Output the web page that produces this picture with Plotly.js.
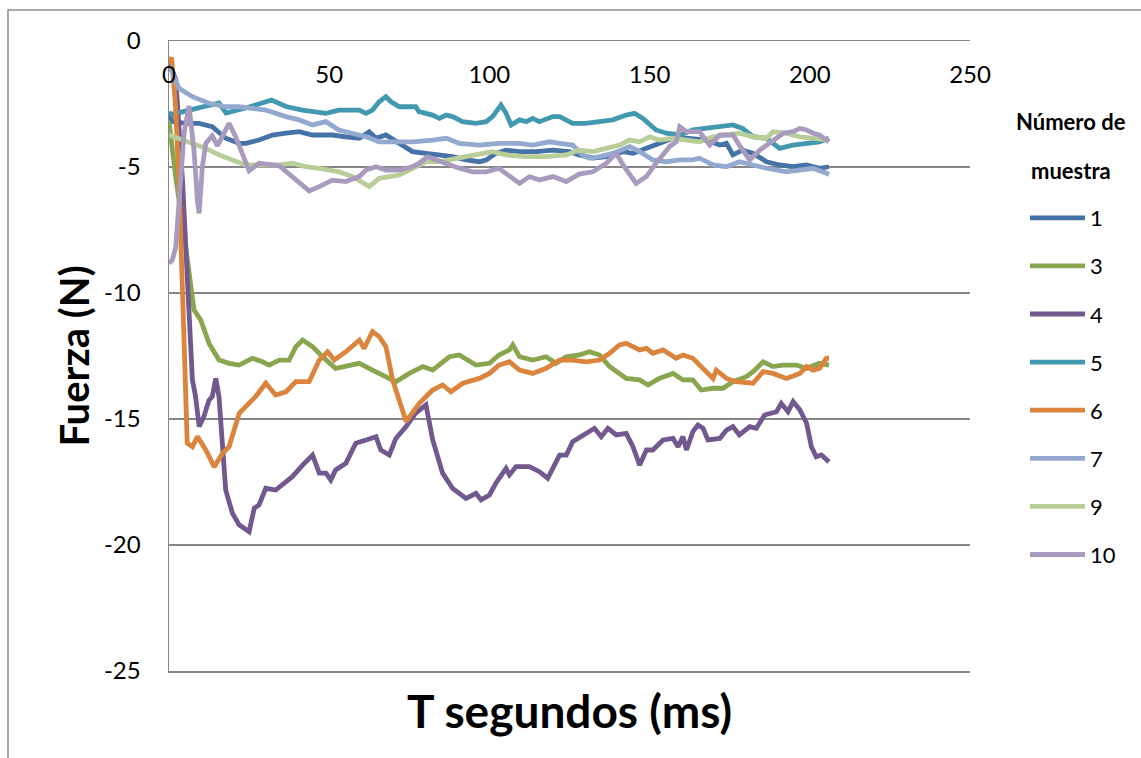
<!DOCTYPE html>
<html>
<head>
<meta charset="utf-8">
<script src="https://cdn.plot.ly/plotly-3.0.1.min.js"></script>
<style>
  html, body { margin: 0; padding: 0; background: #ffffff; }
  #chart { width: 1141px; height: 758px; }
</style>
</head>
<body>
<div id="chart"></div>
<script>
// Force (N) measured against time (ms) for each sample number.
const sampleNames = ["1", "3", "4", "5", "6", "7", "9", "10"];
const sampleColors = ["#4572A7", "#89A54E", "#71588F", "#4198AF", "#DB843D", "#93A9CF", "#B9CD96", "#A99BBD"];

const t1 = [0, 1, 5.2, 9.4, 13.5, 17.7, 21.9, 24, 28.1, 32.3, 36.5, 40.6, 44.8, 49, 51, 55.2, 59.4, 62.5, 64.6, 67.7, 71.9, 76, 80.2, 84.4, 88.5, 92.7, 96.9, 99, 102, 105.2, 109.4, 114.6, 119.8, 125, 128, 132.3, 136.5, 141.7, 144.8, 149, 152, 157.3, 161.5, 167.7, 171.9, 174, 176, 179, 182.3, 186.5, 190.6, 194.8, 199, 203, 206];
const f1 = [-2.8, -3.2, -3.27, -3.27, -3.40, -3.86, -4.06, -4.06, -3.93, -3.73, -3.66, -3.60, -3.73, -3.73, -3.73, -3.80, -3.86, -3.60, -3.86, -3.73, -4.06, -4.39, -4.46, -4.52, -4.59, -4.72, -4.79, -4.72, -4.46, -4.33, -4.39, -4.39, -4.33, -4.39, -4.52, -4.65, -4.59, -4.39, -4.46, -4.26, -4.13, -3.86, -3.86, -3.93, -4.13, -4.06, -4.52, -4.33, -4.46, -4.79, -4.92, -4.99, -4.92, -5.05, -4.99];

const t3 = [0, 2.1, 5.2, 7.8, 9.9, 12.5, 15.6, 18.75, 21.9, 26, 29.2, 31.25, 34.4, 37.5, 39.6, 41.7, 44.8, 47.9, 52, 55.2, 59.4, 63.5, 67.7, 70.8, 75, 79.2, 82.3, 87.5, 90.6, 95.8, 100, 103, 106.25, 107.3, 109.4, 113.5, 117.7, 120.8, 124, 128, 131.25, 134.4, 137.5, 142.7, 146.9, 149.5, 153, 157.3, 160.4, 163.5, 166.1, 169.8, 172.9, 176, 180.2, 182.3, 185.4, 188.5, 191.7, 195.8, 199, 203, 206];
const f3 = [-3.2, -5.4, -8.16, -10.67, -11.07, -12.0, -12.66, -12.79, -12.86, -12.59, -12.73, -12.86, -12.66, -12.66, -12.13, -11.87, -12.13, -12.53, -12.99, -12.92, -12.79, -13.06, -13.32, -13.52, -13.19, -12.92, -13.06, -12.53, -12.46, -12.86, -12.79, -12.46, -12.26, -12.06, -12.53, -12.66, -12.53, -12.79, -12.53, -12.46, -12.33, -12.46, -12.92, -13.39, -13.45, -13.65, -13.39, -13.19, -13.45, -13.45, -13.85, -13.78, -13.78, -13.52, -13.32, -13.12, -12.73, -12.92, -12.86, -12.86, -12.99, -12.79, -12.86];

const t4 = [0, 2.1, 4.2, 5.7, 7.3, 8.3, 9.4, 10.9, 12.5, 13.5, 14.6, 15.6, 16.7, 17.7, 19.8, 21.9, 25, 26.6, 28.1, 30.2, 33.3, 35.4, 38.5, 41.7, 44.8, 46.9, 49, 50.5, 52, 55.2, 58.3, 61.5, 64.6, 66.1, 68.75, 70.8, 74, 77, 80.2, 82.3, 85.4, 88.5, 92.7, 95.8, 97.4, 100, 102, 105.2, 106.25, 108.3, 112.5, 115.6, 118.2, 121.9, 124, 126, 129.2, 132.8, 134.9, 137, 139.6, 142.7, 144.8, 146.9, 149, 151, 154.2, 157.3, 158.9, 160.4, 161.5, 163.5, 165.1, 166.7, 168.2, 171.9, 174, 176, 178, 181.25, 183.3, 185.9, 189.6, 191.1, 193.2, 194.8, 196.9, 199, 200.5, 202, 203.6, 206];
const f4 = [-0.9, -1.5, -5.5, -9.48, -13.45, -14.11, -15.3, -14.9, -14.25, -14.11, -13.39, -14.11, -16.1, -17.82, -18.74, -19.2, -19.47, -18.54, -18.41, -17.75, -17.82, -17.62, -17.29, -16.83, -16.43, -17.15, -17.15, -17.42, -17.02, -16.76, -15.96, -15.83, -15.7, -16.23, -16.43, -15.77, -15.3, -14.77, -14.44, -15.83, -17.15, -17.75, -18.15, -17.95, -18.21, -18.02, -17.55, -16.96, -17.22, -16.89, -16.89, -17.09, -17.35, -16.43, -16.43, -15.9, -15.63, -15.37, -15.7, -15.37, -15.63, -15.57, -16.1, -16.83, -16.23, -16.23, -15.83, -15.77, -16.1, -15.7, -16.23, -15.5, -15.24, -15.37, -15.83, -15.77, -15.44, -15.3, -15.63, -15.3, -15.37, -14.84, -14.71, -14.38, -14.71, -14.31, -14.64, -15.17, -16.1, -16.5, -16.43, -16.7];

const t5 = [0, 7, 15.6, 17.8, 24, 32, 36.5, 41.6, 49, 53, 59.4, 61.5, 63.5, 65.6, 67.7, 69.3, 71.9, 77, 78, 82.2, 84.4, 86.5, 88.5, 91.6, 95.8, 99, 101, 103.6, 105.2, 106.8, 109.4, 111.5, 113.5, 115.6, 119.8, 121.9, 126, 130, 134.4, 138.5, 142.7, 145.3, 147.9, 152, 155.2, 159.4, 163.5, 167.7, 171.9, 176, 179, 182.3, 186.5, 190.6, 194.7, 199, 203, 206];
const f5 = [-2.94, -2.74, -2.46, -2.86, -2.66, -2.34, -2.6, -2.74, -2.87, -2.74, -2.74, -2.87, -2.74, -2.41, -2.21, -2.41, -2.61, -2.61, -2.80, -2.94, -3.07, -2.94, -3.0, -3.2, -3.27, -3.2, -3.0, -2.54, -2.87, -3.33, -3.13, -3.2, -3.07, -3.2, -3.0, -3.0, -3.27, -3.27, -3.2, -3.13, -2.94, -2.87, -3.07, -3.53, -3.66, -3.73, -3.53, -3.47, -3.40, -3.33, -3.47, -3.80, -3.86, -4.26, -4.13, -4.06, -4.0, -3.86];

const t6 = [0, 0.8, 2, 3.1, 4.2, 5.2, 5.7, 7.3, 8.9, 11.5, 14.1, 16.7, 18.75, 21.9, 25, 27.1, 30.2, 33.3, 36.5, 39.6, 43.75, 46.9, 49.5, 51.6, 55.2, 59.4, 60.9, 63.5, 65.6, 67.7, 69.8, 72.9, 74, 78.1, 82.3, 85.4, 88, 91.7, 96.9, 100, 103, 106.25, 109.4, 113.5, 117.7, 121.9, 126, 130.2, 134.4, 137.5, 140.6, 142.7, 146.9, 149, 151, 154.2, 158.3, 160.4, 163.5, 165.6, 169.8, 170.8, 174, 177, 182.3, 185.4, 188.5, 192.7, 196.9, 199, 201, 203, 205.2, 206];
const f6 = [-0.9, -0.65, -2.5, -5.5, -9.88, -13.7, -15.96, -16.1, -15.7, -16.23, -16.9, -16.36, -16.1, -14.77, -14.38, -14.1, -13.58, -14.05, -13.92, -13.52, -13.52, -12.66, -12.33, -12.66, -12.33, -11.87, -12.2, -11.53, -11.73, -12.13, -13.45, -14.77, -15.1, -14.38, -13.85, -13.65, -13.92, -13.58, -13.39, -13.19, -12.86, -12.73, -13.06, -13.19, -12.99, -12.66, -12.66, -12.73, -12.66, -12.39, -12.06, -12.0, -12.26, -12.2, -12.39, -12.26, -12.59, -12.46, -12.59, -12.86, -13.39, -13.06, -13.39, -13.52, -13.58, -13.12, -13.19, -13.39, -13.19, -12.92, -13.06, -12.99, -12.59, -12.59];

const t7 = [0, 1, 3.1, 7.3, 12.5, 17.7, 21.9, 26, 30.2, 36.5, 40.6, 44.8, 49, 53, 57.3, 61.5, 65.6, 69.8, 76, 82.3, 86.5, 90.6, 96.9, 103, 109.4, 113.5, 118.8, 121.9, 126, 129, 131.3, 134.4, 138.5, 143.8, 146.9, 151, 155.2, 159.4, 163.5, 165.6, 169.8, 174, 178, 182.3, 186.5, 192.7, 196.9, 201, 205.2, 206];
const f7 = [-1.0, -1.22, -1.88, -2.21, -2.47, -2.61, -2.61, -2.67, -2.74, -3.0, -3.13, -3.33, -3.2, -3.53, -3.66, -3.80, -4.0, -4.0, -4.0, -3.93, -3.86, -4.06, -4.13, -4.06, -4.06, -4.13, -4.0, -4.06, -4.13, -4.52, -4.65, -4.59, -4.46, -4.19, -4.39, -4.72, -4.79, -4.72, -4.72, -4.65, -4.92, -4.99, -4.79, -4.92, -5.05, -5.19, -5.12, -5.05, -5.25, -5.3];

const t9 = [0, 3.1, 7.3, 11.5, 15.6, 19.8, 24, 28.1, 34.4, 38.5, 42.7, 46.9, 53, 57.3, 62.5, 65.6, 71.9, 77, 80.2, 84.4, 90.6, 96.9, 101, 105.2, 111.5, 117.7, 124, 128, 132.3, 136.5, 140.6, 143.8, 146.9, 150, 153, 157.3, 161.5, 165.6, 169.8, 174, 178, 182.3, 186.5, 188.5, 192.7, 196.9, 201, 206];
const f9 = [-3.73, -3.86, -4.06, -4.26, -4.52, -4.72, -4.92, -4.92, -4.92, -4.85, -4.99, -5.05, -5.19, -5.38, -5.78, -5.45, -5.32, -4.99, -4.79, -4.79, -4.65, -4.52, -4.39, -4.52, -4.59, -4.59, -4.52, -4.33, -4.39, -4.26, -4.13, -3.93, -4.0, -3.80, -3.93, -3.86, -3.93, -4.0, -3.80, -3.73, -3.66, -3.80, -3.86, -3.60, -3.66, -3.80, -3.86, -3.93];

const t10 = [0, 1, 2.1, 3.6, 4.7, 6.25, 7.8, 8.85, 9.4, 10.4, 11.5, 13.5, 15.1, 18.75, 20.8, 25, 28.1, 34.4, 40.6, 43.75, 46.9, 51, 55.2, 59.4, 61.5, 64.6, 67.7, 71.9, 76, 78.1, 80.7, 83.3, 86.5, 90.6, 94.8, 99, 103, 106.25, 109.4, 112.5, 115.6, 119.8, 124, 128, 132.3, 136.5, 139.6, 141.7, 145.8, 149, 152, 156.25, 158.3, 159.4, 161.5, 165.6, 168.75, 171.9, 176, 178, 181.25, 184.4, 187.5, 191.7, 194.8, 196.9, 199, 201, 203, 206];
const f10 = [-8.82, -8.7, -8.2, -5.5, -3.66, -2.58, -4.33, -6.3, -6.84, -5.0, -4.06, -3.76, -4.16, -3.27, -3.8, -5.15, -4.85, -4.95, -5.58, -5.95, -5.78, -5.52, -5.58, -5.38, -5.12, -4.99, -5.12, -5.12, -4.99, -4.85, -4.59, -4.72, -4.85, -5.05, -5.19, -5.19, -5.05, -5.38, -5.65, -5.38, -5.52, -5.38, -5.58, -5.28, -5.19, -4.85, -4.46, -4.92, -5.65, -5.38, -4.85, -4.19, -4.0, -3.40, -3.60, -3.60, -4.13, -3.73, -3.73, -4.13, -4.72, -4.33, -4.06, -3.66, -3.60, -3.47, -3.53, -3.66, -3.73, -4.0];

const xTickVals = [0, 50, 100, 150, 200, 250];
const yTickVals = [0, -5, -10, -15, -20, -25];

const timeSeries = [t1, t3, t4, t5, t6, t7, t9, t10];
const forceSeries = [f1, f3, f4, f5, f6, f7, f9, f10];

const FONT = "Lato, 'Open Sans', 'DejaVu Sans', sans-serif";
const GRID = "#868686";

const traces = sampleNames.map((name, i) => ({
  type: "scatter",
  mode: "lines",
  name: name,
  legendgroup: "g" + name,
  x: timeSeries[i],
  y: forceSeries[i],
  line: { color: sampleColors[i], width: 4.8 },
  hoverinfo: "x+y+name"
}));

// plot area: x 169..970 px, y 41..671 px
const plotL = 169, plotR = 970, plotT = 41, plotB = 671;
const W = 1141, H = 758;
const px = v => (v - plotL) / (plotR - plotL);
const py = v => (plotB - v) / (plotB - plotT);

const layout = {
  width: W,
  height: H,
  margin: { l: plotL, r: W - plotR, t: plotT, b: H - plotB, pad: 0 },
  paper_bgcolor: "#ffffff",
  plot_bgcolor: "#ffffff",
  font: { family: FONT, color: "#000000", size: 24 },
  showlegend: true,
  xaxis: {
    range: [0, 250],
    tickvals: xTickVals,
    ticktext: xTickVals.map(String),
    side: "top",
    ticklabelposition: "inside",
    ticklabeloverflow: "allow",
    ticklabelstandoff: 27,
    ticks: "",
    showgrid: false,
    zeroline: false,
    showline: true,
    mirror: true,
    linecolor: GRID,
    linewidth: 1.5,
    tickfont: { family: FONT, size: 24, color: "#000000" },
    fixedrange: true
  },
  yaxis: {
    range: [-25, 0],
    tickvals: yTickVals,
    ticktext: yTickVals.map(String),
    ticks: "",
    ticklabelstandoff: 22,
    showgrid: true,
    gridcolor: GRID,
    gridwidth: 1.5,
    zeroline: false,
    showline: true,
    linecolor: GRID,
    linewidth: 1.5,
    tickfont: { family: FONT, size: 24, color: "#000000" },
    title: {
      text: "Fuerza (N)",
      font: { family: FONT, size: 40, weight: 700, color: "#000000" },
      standoff: 2
    },
    fixedrange: true
  },
  legend: {
    x: px(1025),
    xanchor: "left",
    y: py(197),
    yanchor: "top",
    bgcolor: "rgba(0,0,0,0)",
    borderwidth: 0,
    itemwidth: 55,
    tracegroupgap: 16.5,
    font: { family: FONT, size: 22, color: "#000000" }
  },
  annotations: [
    {
      text: "T segundos (ms)",
      xref: "paper", yref: "paper",
      x: 0.5, y: py(710),
      xanchor: "center", yanchor: "middle",
      showarrow: false,
      font: { family: FONT, size: 46, weight: 700, color: "#000000" }
    },
    {
      text: "Número de",
      xref: "paper", yref: "paper",
      x: px(1071), y: py(122),
      xanchor: "center", yanchor: "middle",
      showarrow: false,
      font: { family: FONT, size: 22, weight: 700, color: "#000000" }
    },
    {
      text: "muestra",
      xref: "paper", yref: "paper",
      x: px(1071), y: py(170),
      xanchor: "center", yanchor: "middle",
      showarrow: false,
      font: { family: FONT, size: 22, weight: 700, color: "#000000" }
    }
  ],
  shapes: [
    {
      type: "rect",
      xref: "paper", yref: "paper",
      x0: px(8), x1: px(W + 20),
      y0: py(H + 20), y1: py(10),
      line: { color: "#8c8c8c", width: 1.5 },
      fillcolor: "rgba(0,0,0,0)",
      layer: "above"
    }
  ]
};

Plotly.newPlot("chart", traces, layout, { staticPlot: true, displayModeBar: false });
</script>
</body>
</html>
